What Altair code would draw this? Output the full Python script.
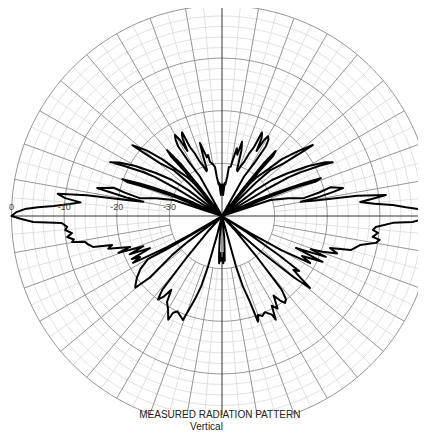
import numpy as np
import pandas as pd
import altair as alt

# ---------------- measured pattern, traced in drawing order ----------------
# angle: deg, 0 = right horizon, counter-clockwise; level: dB (relative to peak)
q1_angle = [0, 1, 2, 2.7, 3.7, 4.6, 5.8, 6.6, 7.3, 8.5, 9.4, 10.2, 11, 12, 13, 14.8, 13.6, 12.3,
            15, 18.2, 23, 22, 21.5, 21, 20.2, 21, 21.8, 22.6, 23.6, 25, 31.5, 31, 30.2, 29, 27.2,
            25.9, 27.6, 30, 33, 35.8, 37.5, 45, 44.5, 43.4, 40.4, 38.8, 38, 40.5, 43.5, 45.6, 48.1,
            49.5, 52, 51, 50.2, 49.6, 50.5, 51.6, 52.5, 61.5, 60.8, 58.5, 57.8, 58.7, 60, 61, 62,
            63, 63.8, 64.5, 65.1, 66.5, 67.8, 69.5, 71, 72, 73.5, 74.9, 76, 77.6, 79, 80, 82,
            82.4, 84, 85.3, 87, 88.5]
q1_level = [0, -0.8, -2.5, -5, -7.5, -11, -13.6, -11, -8.6, -14, -22, -24.8, -21.5, -18.9, -16.4,
            -18.7, -21, -24.1, -27, -30.3, -40, -30, -26, -24, -21, -19.9, -23, -26, -29.2, -33,
            -40, -30, -25.3, -22.8, -19, -16.6, -18, -21, -25, -28.3, -32, -40, -31, -27.3, -24.5,
            -21, -18.1, -21, -24.3, -27.8, -30, -32, -40, -33, -29, -25, -24, -27.2, -33, -40,
            -31.4, -28, -24.4, -23, -22.5, -23.5, -26, -23.5, -22.8, -22.4, -25.6, -27, -28.9,
            -30, -31, -30.8, -27, -25.4, -28, -26.8, -29, -30.5, -30.6, -32.5, -34, -33.7, -36,
            -34]

q2_angle = [90, 91.5, 93, 94.7, 96, 97.6, 98.1, 100, 102.5, 102.9, 104.5, 105.8, 106.8, 107.5,
            108, 109, 110.5, 112.2, 113.5, 114.9, 115.5, 116.2, 117, 118, 119, 120.1, 121.3,
            122.2, 121.5, 119.2, 118.5, 127.5, 128.4, 129.8, 130.5, 129.8, 129, 128, 130.5,
            131.9, 134.4, 136.5, 139, 141.7, 141, 139.6, 136.6, 135.5, 135, 142.5, 144.2, 147,
            150, 152.5, 154.3, 153, 150.9, 149.8, 149, 148.5, 155, 156.4, 157.5, 158.5, 159.7,
            160.3, 159.5, 159, 158, 157, 161.8, 165, 167.8, 166.5, 165.4, 167.4, 168.2, 169,
            169.7, 170.5, 171.3, 172.3, 173.5, 174.5, 175.5, 176.6, 177.3, 178, 179]
q2_level = [-34, -34, -36, -33.7, -34, -32.5, -30.6, -30, -29.5, -28.1, -28.5, -27, -25.5, -28,
            -30.8, -31, -30, -28.9, -27, -25.6, -22.4, -22.8, -23.5, -26, -23.5, -22.2, -23,
            -24.4, -28, -31.4, -40, -33, -27.2, -23.7, -25, -29, -33, -40, -32, -30, -27.8,
            -24.3, -21, -18.3, -21, -24.5, -27.3, -31, -40, -32, -28.3, -25, -21, -18, -16.4,
            -19, -22.8, -25.3, -30, -40, -33, -29.2, -26, -23, -19.8, -21, -24, -26, -30, -40,
            -30.3, -27, -24.1, -21, -18.7, -15.7, -18.9, -21.5, -24.8, -22, -14, -8.5, -10, -13,
            -11, -8, -5, -2.5, -0.8]

q3_angle = [180, 180.8, 181.8, 182.5, 184, 185.1, 186.5, 187.7, 189, 189.8, 190.7, 192, 193.5,
            194.8, 196, 197, 198.6, 199.6, 201, 202.5, 204, 205.5, 206.6, 207.8, 208.5, 209.5,
            210.5, 211, 212, 211, 210.2, 213, 216, 218.5, 219.6, 220.5, 219.5, 218, 217, 216,
            227.5, 229.5, 231, 232.5, 234, 235.5, 237.4, 240, 242.6, 243.2, 245, 247, 249.4,
            250.5, 252, 253.5, 254.5, 255.5, 257, 262, 264, 265.5, 266.5, 267.5, 268.5]
q3_level = [0, -1.7, -4.1, -9.5, -10.5, -10.1, -11.3, -10.3, -11.5, -11.1, -13.5, -14, -14.8,
            -18.4, -17.5, -19.2, -21.6, -19.1, -24, -21, -25, -21, -22.6, -20.9, -24, -28, -33,
            -40, -34, -27.8, -23.7, -21.5, -20, -19, -18.6, -22, -25, -28, -32, -40, -36, -30,
            -22, -20, -21, -23, -20.6, -19.5, -17.8, -19.4, -20, -19.5, -18.9, -21, -23.4, -26,
            -30, -36, -40, -40, -36, -33, -31, -33, -31.5]

q4_angle = [270, 271.5, 272.5, 273.5, 274.5, 276, 278, 284.5, 285.5, 286.5, 288, 288.8, 290, 292,
            294, 296, 296.8, 297.4, 299, 301, 303, 304.5, 305.9, 307.5, 309, 310.5, 312.5, 314.5,
            316, 317.5, 318.5, 319.5, 320.7, 321.8, 323, 324.5, 325.5, 326.5, 327.5, 328.7, 330,
            331.9, 333.5, 335.5, 336.6, 338.5, 339.5, 340.4, 342, 343.5, 345.2, 347, 348.1,
            350.1, 351.4, 352.1, 353.8, 354.7, 355.9, 357.7, 358.2, 359.2, 360]
q4_level = [-32, -31, -33, -31.5, -34, -36, -40, -40, -30, -26, -23, -18.8, -20, -19.5, -20,
            -19.3, -19, -17.8, -20.5, -19.5, -22, -20.5, -19.6, -20, -22, -30, -36, -40, -35,
            -30, -27, -22, -18.4, -21, -23, -22, -27, -34, -40, -33.8, -27, -21, -23, -19, -24.7,
            -18.8, -22, -19.7, -17, -18.6, -14.7, -13.8, -13.2, -10.3, -9.7, -11.1, -10.2,
            -11.2, -10.7, -7.5, -3.8, -1.5, 0]

angles = q1_angle + q2_angle + q3_angle + q4_angle
levels = q1_level + q2_level + q3_level + q4_level

# ---------------- grid definition ----------------
ring_major = [0, -10, -20, -30]
ring_minor = [-2, -4, -6, -8, -12, -14, -16, -18, -22, -24, -26, -28]
spoke_major = [a for a in range(10, 360, 10) if a % 90 != 0]
spoke_minor = list(range(5, 360, 10))
axis_angles = [0, 90]
label_levels = [0, -10, -20, -30]
label_texts = ["0", "-10", "-20", "-30"]
title_text = "MEASURED RADIATION PATTERN"
subtitle_text = "Vertical"

FLOOR = -40          # level at the centre
INNER = -30          # grid starts at this ring

# ---------------- layout ----------------
W, H = 410, 407
CX, CY = 214, 208
K = 210.5 / 40.0     # px per dB
xdom = [-CX / K, (W - CX) / K]
ydom = [-(H - CY) / K, CY / K]

X = alt.X("x:Q", scale=alt.Scale(domain=xdom, nice=False, zero=False), axis=None)
Y = alt.Y("y:Q", scale=alt.Scale(domain=ydom, nice=False, zero=False), axis=None)
X2 = alt.X2("x2:Q")
Y2 = alt.Y2("y2:Q")

samp = list(np.arange(0, 361, 2))


def ring_df(lv):
    return pd.DataFrame([{"level": l, "angle": a} for l in lv for a in samp])


def ring_layer(lv, color, width):
    return alt.Chart(ring_df(lv)).mark_line(color=color, strokeWidth=width, clip=True).transform_calculate(
        r=f"datum.level - ({FLOOR})",
        x="datum.r*cos(datum.angle*PI/180)",
        y="datum.r*sin(datum.angle*PI/180)",
    ).encode(x=X, y=Y, detail="level:N", order="angle:Q")


def spoke_layer(ang, color, width, r0, r1):
    return alt.Chart(pd.DataFrame({"angle": ang})).mark_rule(color=color, strokeWidth=width, clip=True).transform_calculate(
        x=f"({r0})*cos(datum.angle*PI/180)",
        y=f"({r0})*sin(datum.angle*PI/180)",
        x2=f"({r1})*cos(datum.angle*PI/180)",
        y2=f"({r1})*sin(datum.angle*PI/180)",
    ).encode(x=X, y=Y, x2=X2, y2=Y2)


R_IN = INNER - FLOOR
R_OUT = 0 - FLOOR

minor_rings = ring_layer(ring_minor, "#d4d4d4", 0.7)
minor_spokes = spoke_layer(spoke_minor, "#d4d4d4", 0.7, R_IN, R_OUT)
major_rings = ring_layer(ring_major, "#8a8a8a", 0.9)
major_spokes = spoke_layer(spoke_major, "#8a8a8a", 0.9, R_IN, R_OUT)
axes = spoke_layer(axis_angles, "#333333", 1.0, -R_OUT, R_OUT)

pattern = alt.Chart(pd.DataFrame({"idx": range(len(angles)), "angle": angles, "level": levels})).mark_line(
    color="black", strokeWidth=2, clip=True, strokeJoin="round"
).transform_calculate(
    r=f"max(datum.level - ({FLOOR}), 0)",
    x="datum.r*cos(datum.angle*PI/180)",
    y="datum.r*sin(datum.angle*PI/180)",
).encode(x=X, y=Y, order="idx:Q")

labels = alt.Chart(pd.DataFrame({"level": label_levels, "text": label_texts})).mark_text(
    font="Liberation Sans", fontSize=9, color="#444444", baseline="alphabetic", align="center", dy=-6
).transform_calculate(
    x=f"-(datum.level - ({FLOOR}))", y="0"
).encode(x=X, y=Y, text="text:N")

title1 = alt.Chart(pd.DataFrame({"t": [title_text]})).mark_text(
    font="Liberation Sans", fontSize=10, color="#222222", baseline="middle", align="center"
).encode(x=alt.value(211.8), y=alt.value(406.5), text="t:N")

title2 = alt.Chart(pd.DataFrame({"t": [subtitle_text]})).mark_text(
    font="Liberation Sans", fontSize=10, color="#222222", baseline="middle", align="center"
).encode(x=alt.value(198.5), y=alt.value(419), text="t:N")

chart = alt.layer(
    minor_rings, minor_spokes, major_rings, major_spokes, axes, pattern, labels, title1, title2
).properties(
    width=W, height=H, background="white", autosize="none",
    padding={"left": 0, "top": 0, "right": 0, "bottom": 18},
).configure_view(strokeWidth=0)

chart.save("out.html", embed_options={"renderer": "svg", "actions": False})
